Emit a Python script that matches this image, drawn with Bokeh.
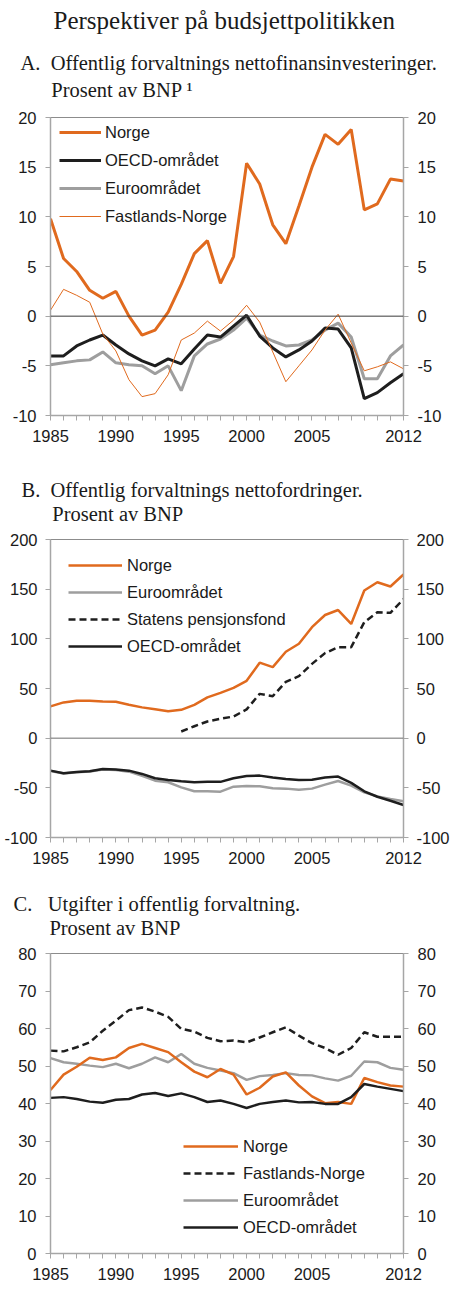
from bokeh.plotting import figure
from bokeh.models import Range1d, FixedTicker, LinearAxis, Span, Legend, LegendItem, Title
from bokeh.layouts import column
from bokeh.embed import file_html
from bokeh.resources import INLINE

# ---------------- data ----------------
years = list(range(1985, 2013))
x_labels = ["1985", "1990", "1995", "2000", "2005", "2012"]

main_title = "Perspektiver på budsjettpolitikken"

# Panel A: Offentlig forvaltnings nettofinansinvesteringer, prosent av BNP
a_title = ["A.", "Offentlig forvaltnings nettofinansinvesteringer.", "Prosent av BNP ¹"]
a_yticks = [-10, -5, 0, 5, 10, 15, 20]
a_norge = [9.8, 5.8, 4.5, 2.6, 1.8, 2.5, 0.0, -1.9, -1.4, 0.4, 3.2, 6.3, 7.6, 3.3,
           6.0, 15.4, 13.3, 9.2, 7.3, 11.1, 15.0, 18.3, 17.3, 18.8, 10.7, 11.3, 13.8, 13.6]
a_oecd = [-4.0, -4.0, -3.0, -2.4, -1.9, -2.9, -3.8, -4.5, -5.0, -4.3, -4.8, -3.3, -1.9, -2.1,
          -1.0, 0.1, -2.0, -3.2, -4.1, -3.4, -2.5, -1.2, -1.3, -3.2, -8.3, -7.7, -6.7, -5.8]
a_euro = [-4.9, -4.7, -4.5, -4.4, -3.6, -4.7, -4.9, -5.0, -5.8, -5.0, -7.5, -4.0, -2.8, -2.3,
          -1.4, -0.2, -1.9, -2.5, -3.0, -2.9, -2.4, -1.4, -0.7, -2.1, -6.3, -6.3, -4.0, -2.9]
a_fastland = [0.6, 2.7, 2.1, 1.4, -1.8, -3.5, -6.4, -8.1, -7.8, -5.9, -2.4, -1.7, -0.5, -1.5,
              -0.4, 1.1, -0.6, -3.6, -6.6, -5.0, -3.4, -1.4, 0.2, -2.7, -5.5, -5.1, -4.6, -5.3]

# Panel B: Offentlig forvaltnings nettofordringer, prosent av BNP
b_title = ["B.", "Offentlig forvaltnings nettofordringer.", "Prosent av BNP"]
b_yticks = [-100, -50, 0, 50, 100, 150, 200]
b_norge = [32, 36, 37.6, 37.6, 37, 36.6, 33.6, 31, 29, 27, 28.5, 33.6, 41, 45.6,
           50.7, 57.7, 76, 71.5, 87, 95, 111.7, 124, 129, 115, 148.7, 157, 152.7, 164.8]
b_euro = [-33, -35.5, -34.3, -33.6, -31.5, -32, -33.7, -38, -42.8, -44.4, -49.5, -53.5, -53.5, -53.9,
          -48.8, -48.1, -48.5, -50.5, -50.8, -51.9, -50.8, -46.8, -43.1, -47.8, -54.5, -58.6, -61.3, -63.6]
b_spf_years = list(range(1995, 2013))
b_spf = [6.7, 12, 16.8, 19.5, 21.8, 29, 44.6, 42.3, 56.7, 62.4, 74.8, 85.6, 91.6, 91.6,
         116.8, 126.8, 126.2, 140]
b_oecd = [-32.7, -35.4, -34, -33.3, -31, -31.6, -32.7, -36, -40.4, -42, -43.4, -44.4, -43.8, -44,
          -40.4, -38, -37.7, -39.7, -41, -42, -41.8, -39.7, -38.7, -45, -53.5, -59, -63, -67.3]

# Panel C: Utgifter i offentlig forvaltning, prosent av BNP
c_title = ["C.", "Utgifter i offentlig forvaltning.", "Prosent av BNP"]
c_yticks = [0, 10, 20, 30, 40, 50, 60, 70, 80]
c_norge = [43.6, 47.7, 49.8, 52.2, 51.6, 52.3, 54.8, 55.9, 54.8, 53.7, 51, 48.5, 47, 49.2,
           47.7, 42.4, 44.2, 47.2, 48.3, 44.8, 41.9, 40.1, 40.4, 39.9, 46.8, 45.7, 44.8, 44.5]
c_fastland = [54.1, 53.9, 55, 56.3, 59.4, 62.1, 64.9, 65.6, 64.5, 63.1, 59.9, 59.2, 57.5, 56.6,
              56.8, 56.3, 57.6, 59, 60.3, 58.1, 56.1, 54.8, 53, 54.8, 59, 57.8, 57.8, 57.8]
c_euro = [52.1, 51, 50.6, 50.1, 49.7, 50.6, 49.4, 50.6, 52.3, 51, 53.2, 50.6, 49.5, 48.8,
          48.1, 46.3, 47.3, 47.6, 48.1, 47.6, 47.5, 46.7, 46.1, 47.4, 51.2, 51, 49.5, 49]
c_oecd = [41.5, 41.7, 41.2, 40.5, 40.2, 41, 41.2, 42.4, 42.8, 42, 42.7, 41.7, 40.4, 40.8,
          39.9, 38.8, 39.9, 40.4, 40.8, 40.3, 40.4, 39.9, 39.9, 41.7, 45.2, 44.5, 43.9, 43.3]

# ---------------- style ----------------
SANS = "Liberation Sans"
SERIF = "Liberation Serif"
ORANGE = "#E06A1E"
BLACK = "#1E1E1E"
GRAY = "#9E9E9E"
AXIS = "#A6A6A6"
TXT = "#1A1A1A"
TICK_FS = "16.5px"
SUB = "20.5px"
FRAME_L, FRAME_R, FRAME_W = 50, 47, 353
EN, EM, QU = "\u2002", "\u2003", "\u2005"


def style_axis(ax):
    ax.axis_line_color = AXIS
    ax.axis_line_width = 1.5
    ax.major_tick_line_color = AXIS
    ax.major_tick_in = 0
    ax.major_tick_out = 5
    ax.minor_tick_line_color = None
    ax.major_label_text_font = SANS
    ax.major_label_text_font_size = TICK_FS
    ax.major_label_text_color = TXT


def make_fig(fh, ylo, yhi, yticks, bt, bb, standoff=9):
    p = figure(frame_width=FRAME_W, frame_height=fh, x_range=Range1d(1985, 2012),
               y_range=Range1d(ylo, yhi), output_backend="svg",
               toolbar_location=None, min_border_left=FRAME_L, min_border_right=FRAME_R,
               min_border_top=bt, min_border_bottom=bb)
    p.xgrid.visible = False
    p.ygrid.visible = False
    p.outline_line_color = "#8C8C8C"
    p.outline_line_width = 1
    p.background_fill_color = "white"
    p.border_fill_color = "white"
    xa = p.xaxis[0]
    xa.ticker = FixedTicker(ticks=years)
    xa.major_label_overrides = {y: (str(y) if str(y) in x_labels else "") for y in years}
    xa.major_label_standoff = 9
    style_axis(xa)
    ylab = {t: str(t) for t in yticks}
    ya = p.yaxis[0]
    ya.ticker = FixedTicker(ticks=yticks)
    ya.major_label_overrides = ylab
    ya.major_label_standoff = standoff
    style_axis(ya)
    ra = LinearAxis(ticker=FixedTicker(ticks=yticks), major_label_standoff=standoff,
                    major_label_overrides=ylab)
    style_axis(ra)
    p.add_layout(ra, "right")
    return p


def add_title(p, text, x_page, standoff, line_height, size=SUB):
    p.add_layout(Title(text=text, align="left", offset=x_page - FRAME_L, standoff=standoff,
                       text_font=SERIF, text_font_size=size, text_font_style="normal",
                       text_color=TXT, text_line_height=line_height,
                       vertical_align="bottom"), "above")


def make_legend(p, items, x, y, glyph_w, standoff, spacing):
    lg = Legend(items=[LegendItem(label=l, renderers=[r]) for l, r in items],
                location=(x, y), glyph_width=glyph_w, glyph_height=20, label_height=20,
                label_standoff=standoff, spacing=spacing, padding=5, margin=0,
                label_text_font=SANS, label_text_font_size=TICK_FS, label_text_color=TXT,
                background_fill_alpha=0, border_line_alpha=0)
    p.add_layout(lg)


# ---------------- panel A ----------------
pa = make_fig(298, -10, 20, a_yticks, 117, 45)
pa.add_layout(Span(location=0, dimension="width", line_color="#3A3A3A", line_width=1))
ra_e = pa.line(years, a_euro, line_color=GRAY, line_width=3)
ra_o = pa.line(years, a_oecd, line_color=BLACK, line_width=3)
ra_f = pa.line(years, a_fastland, line_color=ORANGE, line_width=1)
ra_n = pa.line(years, a_norge, line_color=ORANGE, line_width=3)
make_legend(pa, [("Norge", ra_n), ("OECD-området", ra_o), ("Euroområdet", ra_e),
                 ("Fastlands-Norge", ra_f)], 4, 184, 42, 4, 8)
add_title(pa, a_title[0] + EN + a_title[1] + "\n" + EM + EN + a_title[2], 20, 32, 1.26)
add_title(pa, main_title, 53, 0, 1.0, size="25px")

# ---------------- panel B ----------------
pb = make_fig(298, -100, 200, b_yticks, 79, 33, standoff=8)
pb.add_layout(Span(location=0, dimension="width", line_color="#6E6E6E", line_width=1))
rb_e = pb.line(years, b_euro, line_color=GRAY, line_width=2.5)
rb_o = pb.line(years, b_oecd, line_color=BLACK, line_width=2.5)
rb_s = pb.line(b_spf_years, b_spf, line_color=BLACK, line_width=2.5, line_dash="7 4")
rb_n = pb.line(years, b_norge, line_color=ORANGE, line_width=2.5)
make_legend(pb, [("Norge", rb_n), ("Euroområdet", rb_e), ("Statens pensjonsfond", rb_s),
                 ("OECD-området", rb_o)], 13, 176, 54, 5, 7)
add_title(pb, b_title[0] + EN + b_title[1] + "\n" + EM + EN + b_title[2], 21, 29, 1.10)

# ---------------- panel C ----------------
pc = make_fig(300, 0, 80, c_yticks, 83, 40)
rc_e = pc.line(years, c_euro, line_color=GRAY, line_width=2.5)
rc_n = pc.line(years, c_norge, line_color=ORANGE, line_width=2.5)
rc_f = pc.line(years, c_fastland, line_color=BLACK, line_width=2.5, line_dash="7 4")
rc_o = pc.line(years, c_oecd, line_color=BLACK, line_width=2.5)
make_legend(pc, [("Norge", rc_n), ("Fastlands-Norge", rc_f), ("Euroområdet", rc_e),
                 ("OECD-området", rc_o)], 128, 11, 55, 5, 7)
add_title(pc, c_title[0] + EN + QU + c_title[1] + "\n" + EM + EN + QU + c_title[2], 13, 29, 1.1)

layout = column(pa, pb, pc, spacing=0)
open("out.html", "w").write(file_html(layout, INLINE))
